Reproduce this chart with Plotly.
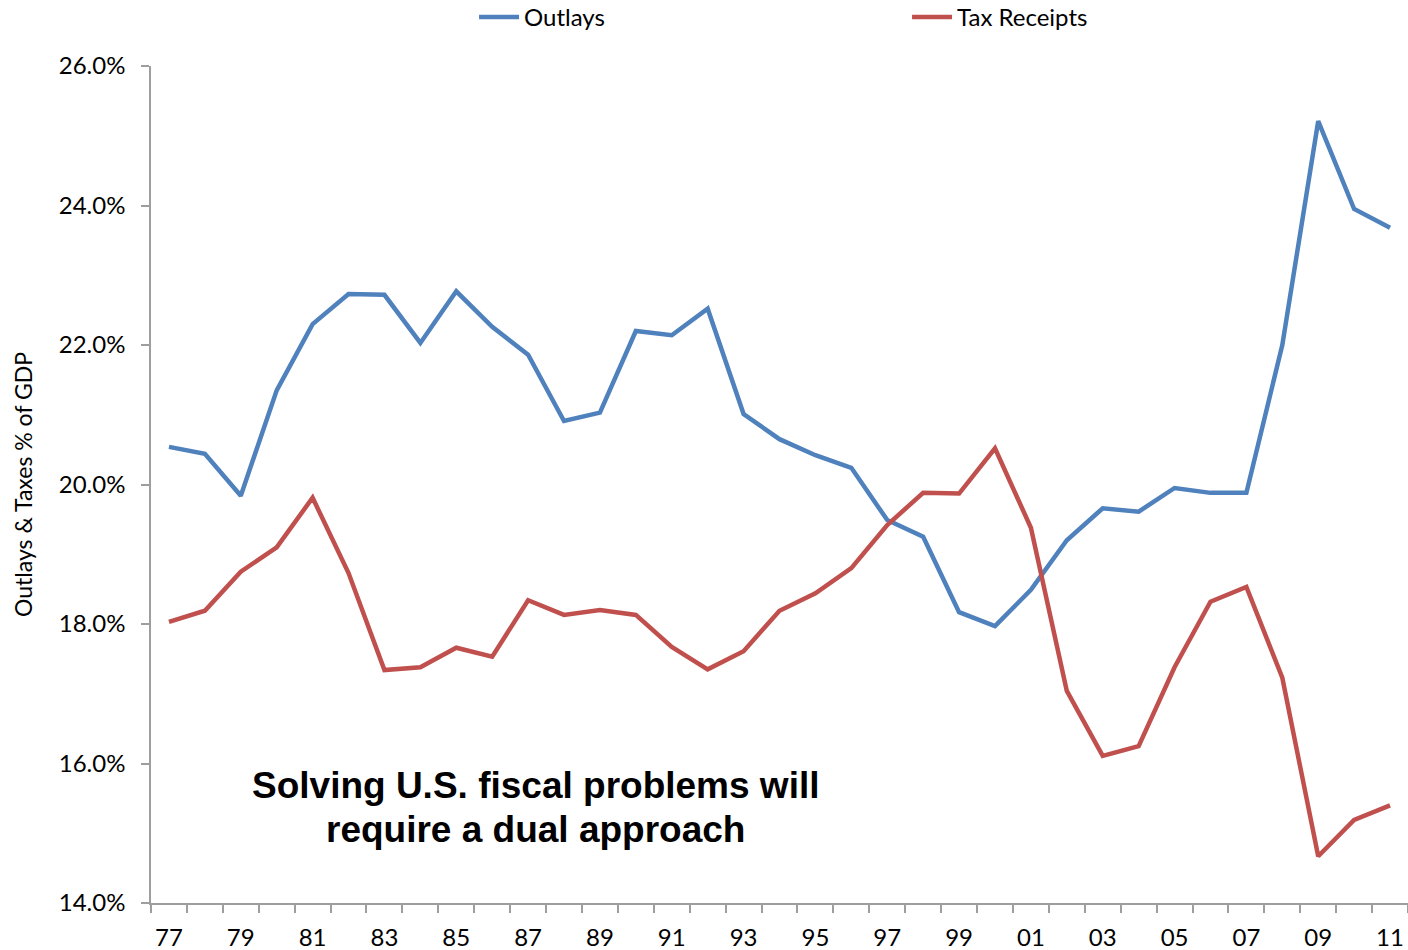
import plotly.graph_objects as go

years = ["77","78","79","80","81","82","83","84","85","86","87","88","89","90","91","92","93","94","95","96",
         "97","98","99","00","01","02","03","04","05","06","07","08","09","10","11"]
outlays = [20.54, 20.44, 19.84, 21.35, 22.30, 22.73, 22.72, 22.03, 22.77, 22.26, 21.86, 20.91, 21.03, 22.20,
           22.14, 22.52, 21.01, 20.65, 20.42, 20.24, 19.49, 19.25, 18.17, 17.97, 18.49, 19.20, 19.66, 19.61,
           19.95, 19.88, 19.88, 22.00, 25.21, 23.95, 23.68]
receipts = [18.03, 18.19, 18.75, 19.10, 19.81, 18.73, 17.34, 17.38, 17.66, 17.53, 18.34, 18.13, 18.20, 18.13,
            17.67, 17.35, 17.61, 18.19, 18.44, 18.80, 19.42, 19.88, 19.87, 20.52, 19.38, 17.04, 16.11, 16.25,
            17.38, 18.32, 18.53, 17.23, 14.67, 15.19, 15.40]
y_ticks = [14, 16, 18, 20, 22, 24, 26]
note_lines = ["Solving U.S. fiscal problems will", "require a dual approach"]

idx = list(range(len(years)))
font = "Lato, 'Open Sans', sans-serif"
axis_gray = "#9E9E9E"

fig = go.Figure()
fig.add_trace(go.Scatter(x=idx, y=outlays, mode="lines", name="Outlays",
                         line=dict(color="#4F81BD", width=4.5)))
fig.add_trace(go.Scatter(x=idx, y=receipts, mode="lines", name="Tax Receipts",
                         line=dict(color="#C0504D", width=4.5)))

fig.update_layout(
    width=1408, height=950,
    margin=dict(l=151, r=0, t=66, b=47, autoexpand=False),
    plot_bgcolor="white", paper_bgcolor="white",
    font=dict(family=font, size=24, color="black"),
    showlegend=True,
    legend=dict(orientation="h", x=0.257, y=1.058, xanchor="left", yanchor="middle",
                entrywidth=378, entrywidthmode="pixels", itemwidth=40,
                font=dict(family=font, size=24, color="black"),
                bgcolor="rgba(0,0,0,0)"),
    xaxis=dict(range=[-0.5, len(years) - 0.5], tickmode="array",
               tickvals=idx[::2], ticktext=years[::2], ticks="",
               showline=True, linecolor=axis_gray, linewidth=1.5,
               showgrid=False, zeroline=False,
               tickfont=dict(size=24), ticklabelstandoff=12,
               minor=dict(tickmode="array", tickvals=[i - 0.5 for i in range(len(years) + 1)],
                          ticks="outside", ticklen=8, tickcolor=axis_gray, tickwidth=1.5,
                          showgrid=False)),
    yaxis=dict(range=[14, 26], tickmode="array", tickvals=y_ticks,
               ticktext=[f"{v:.1f}%" for v in y_ticks],
               ticks="outside", ticklen=8, tickcolor=axis_gray, tickwidth=1.5,
               showline=True, linecolor=axis_gray, linewidth=1.5,
               showgrid=False, zeroline=False, tickfont=dict(size=24),
               ticklabelstandoff=11,
               title=dict(text="Outlays & Taxes % of GDP", font=dict(size=23), standoff=20)),
)

for txt, yy in zip(note_lines, [0.1398, 0.0884]):
    fig.add_annotation(xref="paper", yref="paper", x=0.306, y=yy,
                       text=f"<b>{txt}</b>",
                       showarrow=False, align="center", yanchor="middle", xanchor="center",
                       font=dict(family="'Liberation Sans', Arial, sans-serif", size=37, color="black"))

fig.write_html("out.html", config={"displayModeBar": False},
               post_script="document.body.style.margin='0px';")
